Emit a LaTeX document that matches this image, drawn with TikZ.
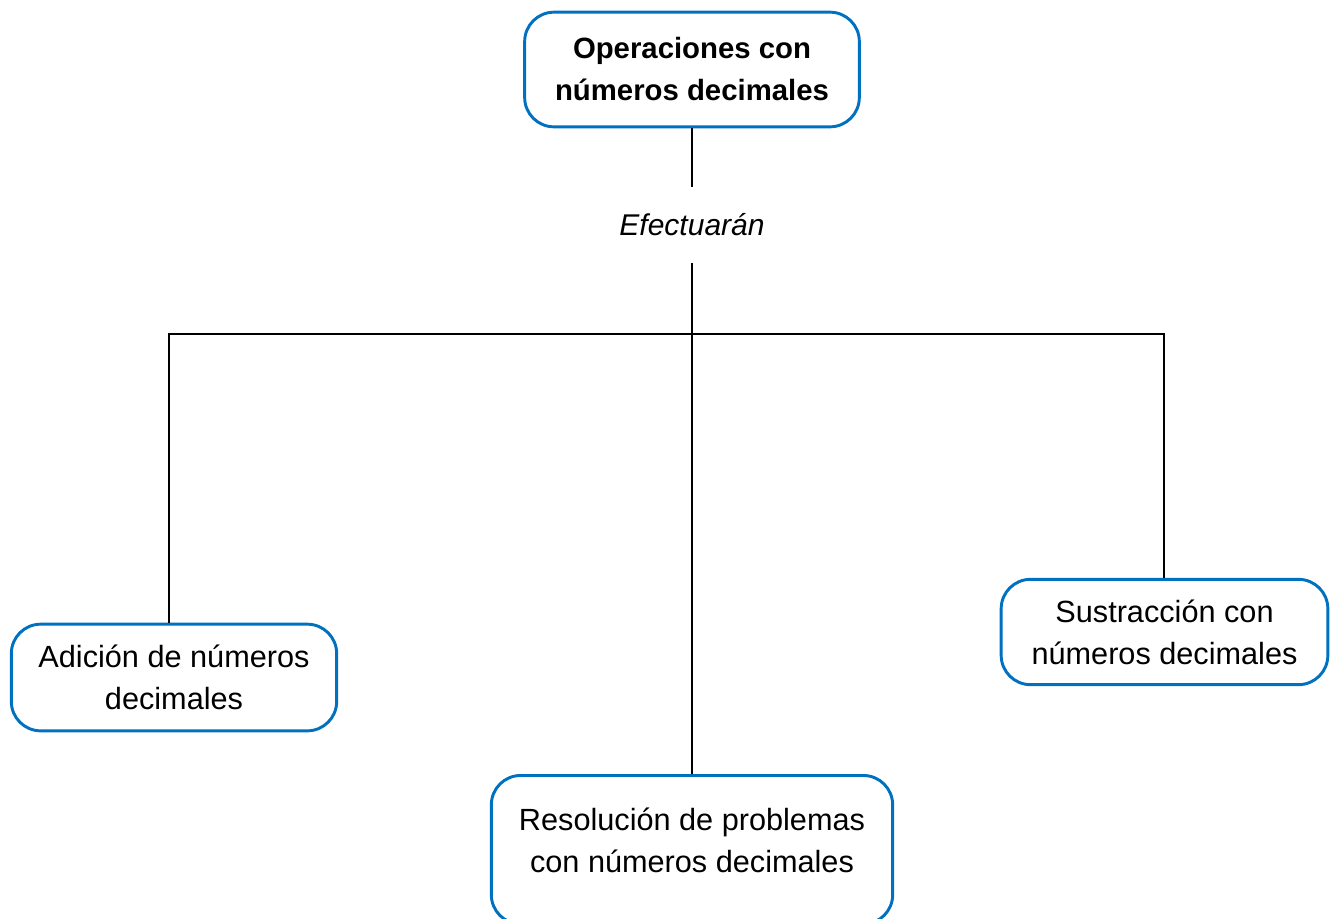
\documentclass[tikz,border=0pt]{standalone}
\usepackage{fontspec}
\setmainfont{Liberation Sans}
\definecolor{boxblue}{RGB}{0,112,192}
\begin{document}
\begin{tikzpicture}[x=0.75pt,y=-0.75pt,
  box/.style={draw=boxblue, line width=2.2pt, rounded corners=22pt, align=center,
    font=\fontsize{23}{31.5}\selectfont, inner sep=0pt, fill=white},
  conn/.style={draw=black, line width=0.8pt}]
\useasboundingbox (0,0) rectangle (1335,918);
\node[box, font=\fontsize{22}{31.5}\selectfont\bfseries, minimum width=251pt, minimum height=86pt] (top) at (692,69.5)
  {Operaciones con\\números decimales};
\node[font=\fontsize{22.5}{31.5}\selectfont\itshape, inner sep=0pt, minimum height=56pt] (lbl) at (692,225) {Efectuarán};
\node[box, minimum width=244pt, minimum height=80pt] (left) at (174,677.5)
  {Adición de números\\decimales};
\node[box, minimum width=245pt, minimum height=79pt] (right) at (1164.5,632)
  {Sustracción con\\números decimales};
\node[box, anchor=north, minimum width=301pt, inner ysep=24pt] (bot) at (692,774)
  {Resolución de problemas\\con números decimales\rule[-15pt]{0pt}{0pt}};
\coordinate (hl) at (169,334);
\coordinate (hr) at (1164,334);
\coordinate (hm) at (692,334);
\draw[conn] (top.south) -- (lbl.north);
\draw[conn] (lbl.south) -- (hm) -- (bot.north);
\draw[conn] (hl |- left.north) -- (hl) -- (hr) -- (hr |- right.north);
\end{tikzpicture}
\end{document}
